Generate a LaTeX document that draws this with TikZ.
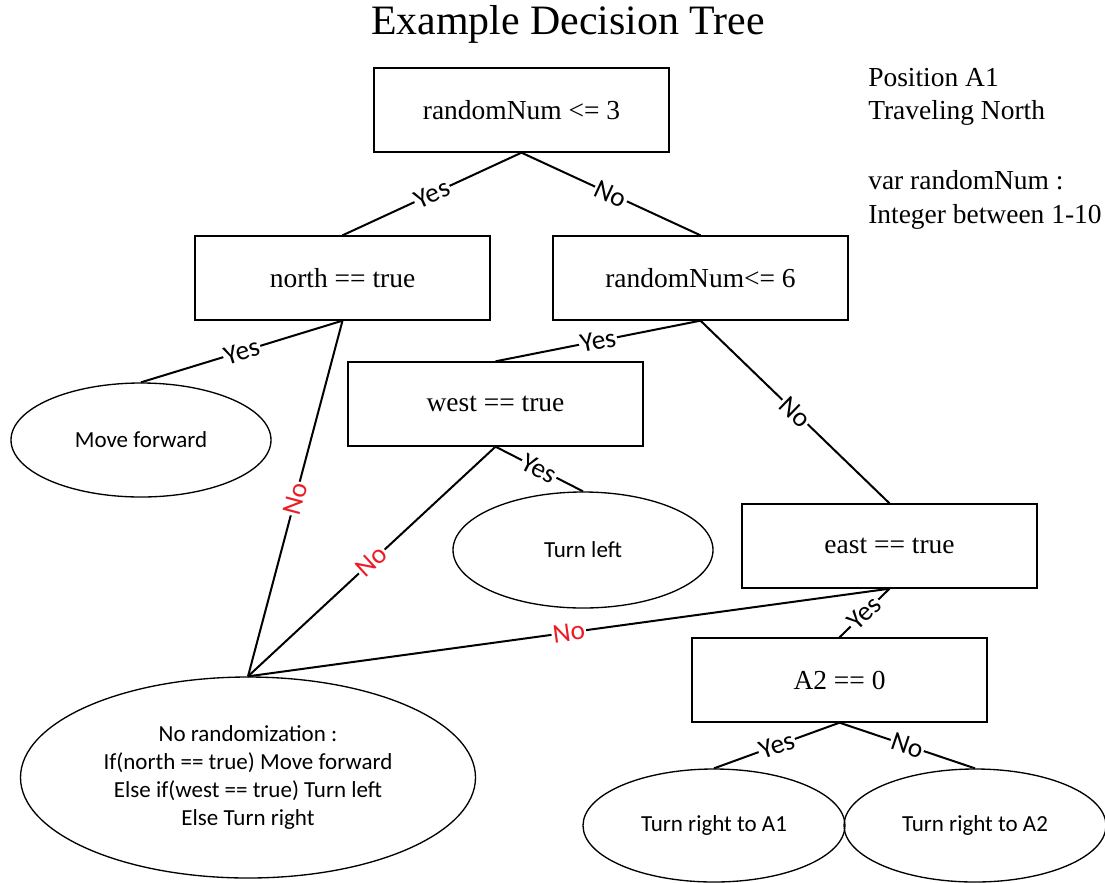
\documentclass[tikz,border=0pt]{standalone}
\usepackage{fontspec}
\setmainfont{Liberation Serif}
\newfontfamily\calfont{Carlito}
\usetikzlibrary{shapes.geometric}
\definecolor{nored}{RGB}{237,28,36}
\begin{document}
\begin{tikzpicture}[x=0.75pt,y=-0.75pt,
  box/.style={draw, line width=1pt, minimum width=221.25pt, minimum height=63pt, inner sep=0pt, font=\fontsize{20.6pt}{24pt}\selectfont},
  leaf/.style={draw, ellipse, line width=1pt, inner sep=0pt, align=center, font=\calfont\fontsize{17.25pt}{21pt}\selectfont},
  conn/.style={line width=1.5pt},
  lbl/.style={sloped, fill=white, inner sep=1pt, font=\calfont\fontsize{20.5pt}{22pt}\selectfont},
  nolbl/.style={lbl, text=nored},
  side/.style={align=left, anchor=west, inner sep=0pt, font=\fontsize{20.6pt}{25pt}\selectfont}]
\useasboundingbox (0,0) rectangle (1105,882);
\node[font=\fontsize{31.4pt}{36pt}\selectfont] (title) at (568,24) {Example Decision Tree};
\node[side] (info1) at (868,97) {Position A1\\Traveling North};
\node[side] (info2) at (868,200) {var randomNum :\\Integer between 1-10};
\node[box] (r3) at (521.5,110) {randomNum <= 3};
\node[box] (nt) at (342.5,278) {north == true};
\node[box] (r6) at (700.5,278) {randomNum<= 6};
\node[box] (wt) at (495.5,404) {west == true};
\node[box] (et) at (889.5,546) {east == true};
\node[box] (a2) at (839.5,680) {A2 == 0};
\node[leaf, minimum width=195pt, minimum height=85.5pt] (mf) at (141,440) {Move forward};
\node[leaf, minimum width=195pt, minimum height=87pt] (tl) at (583,550) {Turn left};
\node[leaf, minimum width=341.25pt, minimum height=150.75pt] (big) at (248,777.5) {No randomization :\\If(north == true) Move forward\\Else if(west == true) Turn left\\Else Turn right};
\node[leaf, minimum width=196.5pt, minimum height=84.75pt] (tr1) at (714,825.5) {Turn right to A1};
\node[leaf, minimum width=196.5pt, minimum height=84.75pt] (tr2) at (975,825.5) {Turn right to A2};
\draw[conn] (r3.south) -- node[lbl] {Yes} (nt.north);
\draw[conn] (r3.south) -- node[lbl] {No} (r6.north);
\draw[conn] (nt.south) -- node[lbl] {Yes} (mf.north);
\draw[conn] (nt.south) -- node[nolbl] {No} (big.north);
\draw[conn] (r6.south) -- node[lbl] {Yes} (wt.north);
\draw[conn] (r6.south) -- node[lbl] {No} (et.north);
\draw[conn] (wt.south) -- node[lbl] {Yes} (tl.north);
\draw[conn] (wt.south) -- node[nolbl] {No} (big.north);
\draw[conn] (et.south) -- node[nolbl] {No} (big.north);
\draw[conn] (et.south) -- node[lbl] {Yes} (a2.north);
\draw[conn] (a2.south) -- node[lbl] {Yes} (tr1.north);
\draw[conn] (a2.south) -- node[lbl] {No} (tr2.north);
\end{tikzpicture}
\end{document}
